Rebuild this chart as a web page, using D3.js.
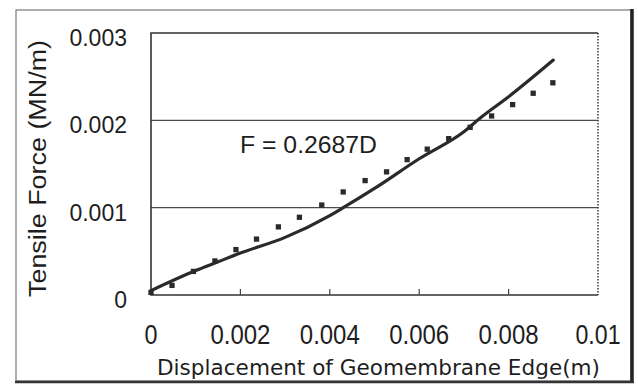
<!DOCTYPE html>
<html>
<head>
<meta charset="utf-8">
<script src="https://cdn.jsdelivr.net/npm/d3@7"></script>
<style>
  html, body { margin: 0; padding: 0; background: #fff; }
  svg { display: block; }
  text { fill: #1e1e1e; }
</style>
</head>
<body>
<svg id="chart" width="638" height="387"></svg>
<script>
// ---- data ----
const measuredX = [0, 0.001, 0.0015, 0.002, 0.003, 0.004, 0.0043, 0.005, 0.006, 0.007, 0.0074, 0.008, 0.009];
const measuredY = [0.00005, 0.00028, 0.00038, 0.00048, 0.00066, 0.00091, 0.001, 0.00122, 0.00156, 0.00187, 0.00204, 0.00227, 0.00269];
const fitX = [0, 0.00047, 0.00095, 0.00143, 0.0019, 0.00236, 0.00285, 0.00332, 0.00382, 0.0043, 0.00479, 0.00527, 0.00573, 0.00618, 0.00666, 0.00714, 0.00762, 0.00809, 0.00855, 0.00899];
const fitY = [0.00003, 0.00011, 0.00027, 0.00039, 0.00052, 0.00064, 0.00078, 0.00089, 0.00103, 0.00118, 0.00131, 0.00141, 0.00155, 0.00167, 0.00179, 0.00192, 0.00205, 0.00218, 0.00231, 0.00243];
const xTicks = [0, 0.002, 0.004, 0.006, 0.008, 0.01];
const xTickLabels = ["0", "0.002", "0.004", "0.006", "0.008", "0.01"];
const yTicks = [0, 0.001, 0.002, 0.003];
const yTickLabels = ["0", "0.001", "0.002", "0.003"];
const annotation = "F = 0.2687D";
const xTitle = "Displacement of Geomembrane Edge(m)";
const yTitle = "Tensile Force  (MN/m)";

// ---- layout ----
const svg = d3.select("#chart");
const plot = { left: 151, right: 598, top: 33, bottom: 295 };
const x = d3.scaleLinear().domain([0, 0.01]).range([plot.left, plot.right]);
const y = d3.scaleLinear().domain([0, 0.003]).range([plot.bottom, plot.top]);
const ARIAL = "'Liberation Sans', Arial, sans-serif";

// outer frame
svg.append("rect").attr("x", 16).attr("y", 10).attr("width", 615).attr("height", 371)
  .attr("fill", "none").attr("stroke", "#777").attr("stroke-width", 1.2);
svg.append("line").attr("x1", 632).attr("x2", 632).attr("y1", 9).attr("y2", 383)
  .attr("stroke", "#222").attr("stroke-width", 3.5);
svg.append("line").attr("x1", 15).attr("x2", 634).attr("y1", 382).attr("y2", 382)
  .attr("stroke", "#333").attr("stroke-width", 2.5);

// gridlines
svg.append("g").selectAll("line").data(yTicks.filter(d => d > 0 && d < 0.003)).join("line")
  .attr("x1", plot.left).attr("x2", plot.right)
  .attr("y1", d => y(d)).attr("y2", d => y(d))
  .attr("stroke", "#4a4a4a").attr("stroke-width", 1.3);

// plot frame
svg.append("path")
  .attr("d", `M${plot.right},${plot.top}H${plot.left}V${plot.bottom}H${plot.right}`)
  .attr("fill", "none").attr("stroke", "#333").attr("stroke-width", 1.6);
svg.append("line").attr("x1", plot.right).attr("x2", plot.right).attr("y1", plot.top).attr("y2", plot.bottom)
  .attr("stroke", "#444").attr("stroke-width", 1.6).attr("stroke-dasharray", "1.5,1.5");

// x ticks (inside)
svg.append("g").selectAll("line").data(xTicks.filter(d => d > 0 && d < 0.01)).join("line")
  .attr("x1", d => x(d)).attr("x2", d => x(d))
  .attr("y1", plot.bottom).attr("y2", plot.bottom - 6)
  .attr("stroke", "#444").attr("stroke-width", 1.2);

// y tick labels
svg.append("g").selectAll("text").data(yTicks).join("text")
  .attr("x", 127).attr("y", d => y(d) + 13)
  .attr("text-anchor", "end")
  .style("font-family", ARIAL).style("font-size", "23px")
  .text((d, i) => yTickLabels[i]);

// x tick labels (narrow tall font)
const xLabelWidths = { "0": 13, "0.002": 60, "0.004": 60, "0.006": 60, "0.008": 60, "0.01": 45 };
svg.append("g").selectAll("text").data(xTicks).join("text")
  .attr("x", (d, i) => x(d) - xLabelWidths[xTickLabels[i]] / 2)
  .attr("y", 344)
  .attr("textLength", (d, i) => xLabelWidths[xTickLabels[i]])
  .attr("lengthAdjust", "spacingAndGlyphs")
  .style("font-family", ARIAL).style("font-size", "27px")
  .text((d, i) => xTickLabels[i]);

// axis titles
svg.append("text").attr("x", 157).attr("y", 375)
  .attr("textLength", 443).attr("lengthAdjust", "spacingAndGlyphs")
  .style("font-family", "'DejaVu Sans', sans-serif").style("font-size", "22px")
  .text(xTitle);
svg.append("text")
  .attr("transform", "translate(46,297) rotate(-90)")
  .attr("textLength", 257).attr("lengthAdjust", "spacingAndGlyphs")
  .style("font-family", ARIAL).style("font-size", "23px")
  .text(yTitle);

// annotation
svg.append("text").attr("x", 240).attr("y", 153)
  .attr("textLength", 137).attr("lengthAdjust", "spacingAndGlyphs")
  .style("font-family", ARIAL).style("font-size", "24px")
  .text(annotation);

// measured curve (solid)
const line = d3.line().x(d => x(d[0])).y(d => y(d[1])).curve(d3.curveMonotoneX);
svg.append("path")
  .datum(measuredX.map((v, i) => [v, measuredY[i]]))
  .attr("d", line)
  .attr("fill", "none").attr("stroke", "#2a2a2a").attr("stroke-width", 3.2)
  .attr("stroke-linejoin", "round").attr("stroke-linecap", "round");

// fitted series (square dots)
svg.append("g").selectAll("path").data(fitX.map((v, i) => [v, fitY[i]])).join("path")
  .attr("transform", d => `translate(${x(d[0])},${y(d[1])})`)
  .attr("d", d3.symbol(d3.symbolSquare, 28))
  .attr("fill", "#2a2a2a");
</script>
</body>
</html>
